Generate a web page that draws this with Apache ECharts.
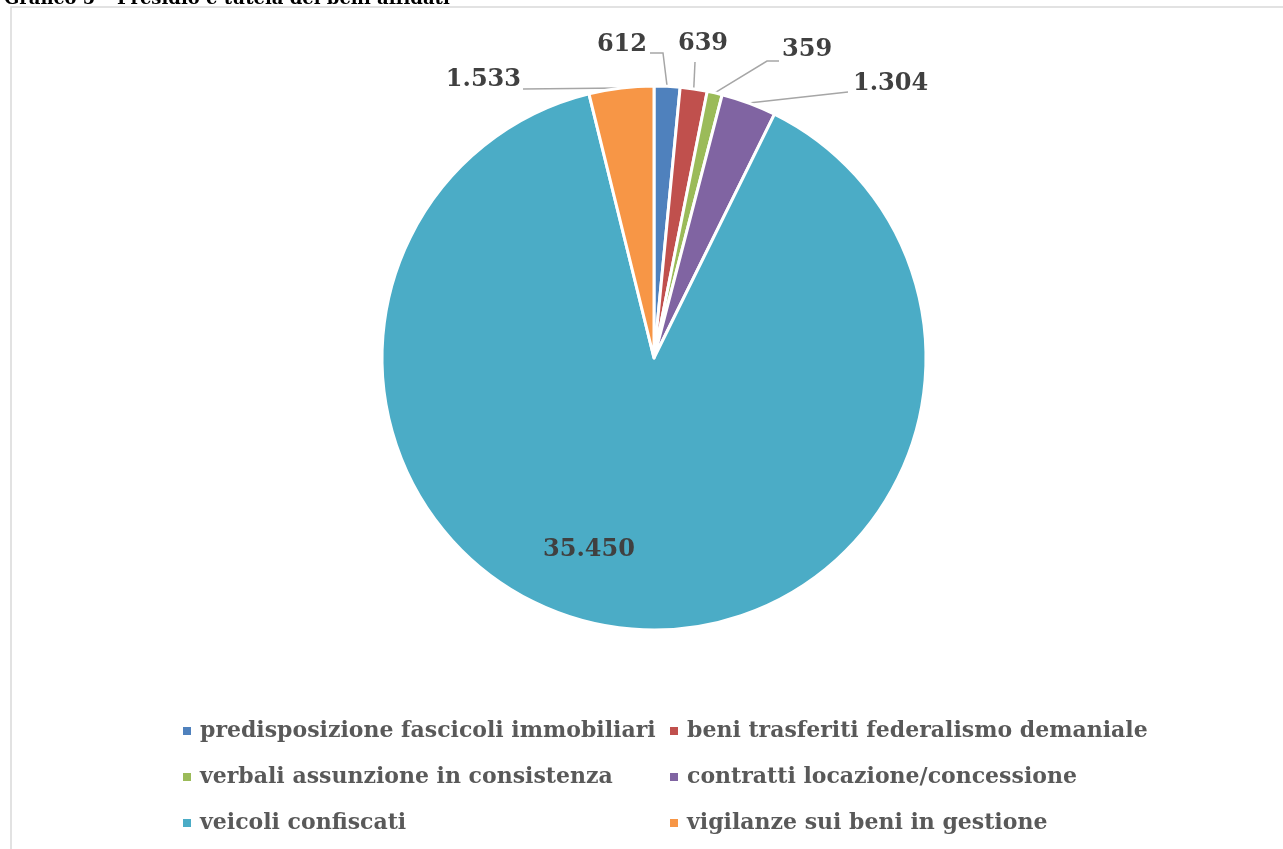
<!DOCTYPE html>
<html>
<head>
<meta charset="utf-8">
<script src="https://cdn.jsdelivr.net/npm/echarts@6/dist/echarts.min.js"></script>
<style>
  html, body { margin: 0; padding: 0; background: #fff; }
  #chart { width: 1283px; height: 849px; }
</style>
</head>
<body>
<div id="chart"></div>
<script>
// Data
const categories = [
  'predisposizione fascicoli immobiliari',
  'beni trasferiti federalismo demaniale',
  'verbali assunzione in consistenza',
  'contratti locazione/concessione',
  'veicoli confiscati',
  'vigilanze sui beni in gestione'
];
const values = [612, 639, 359, 1304, 35450, 1533];
const colors = ['#4F81BD', '#C0504D', '#9BBB59', '#8064A2', '#4BACC6', '#F79646'];
const titleText = 'Grafico 5 – Presidio e tutela dei beni affidati';

const serif = '"DejaVu Serif", "Liberation Serif", serif';
const pieCenter = [654, 358];
const pieRadius = 272;

// Label placement relative to the pie centre (Excel "best fit" look)
const labelPlacement = [
  { x: -7, y: -313, align: 'right', elbow: [9, -305], end: [-4, -305] },
  { x: 49, y: -314, align: 'center', elbow: null, end: [41, -296] },
  { x: 128, y: -308, align: 'left', elbow: [113, -297], end: [125, -297] },
  { x: 199, y: -274, align: 'left', elbow: null, end: [194, -266] },
  null,
  { x: -133, y: -278, align: 'right', elbow: null, end: [-131, -269] }
];

// Italian thousands separator
function fmt(v) {
  return String(v).replace(/\B(?=(\d{3})+(?!\d))/g, '.');
}

// mid angle of each slice (clockwise from 12 o'clock)
const total = values.reduce((a, b) => a + b, 0);
const midAngles = [];
let acc = 0;
values.forEach(v => {
  midAngles.push(((acc + v / 2) / total) * Math.PI * 2);
  acc += v;
});

const chart = echarts.init(document.getElementById('chart'));

const option = {
  backgroundColor: '#fff',
  animation: false,
  color: colors,
  graphic: [
    {
      type: 'rect',
      shape: { x: 11, y: 7, width: 1400, height: 1000 },
      style: { fill: 'none', stroke: '#d9d9d9', lineWidth: 1.5 },
      silent: true
    },
    {
      type: 'text',
      x: 4,
      y: 8,
      style: {
        text: titleText,
        font: 'bold 18px ' + serif,
        fill: '#000',
        verticalAlign: 'bottom'
      }
    }
  ],
  legend: {
    left: 181,
    top: 714,
    padding: 0,
    width: 980,
    itemWidth: 10,
    itemHeight: 10,
    itemGap: 12,
    icon: 'rect',
    textStyle: {
      fontFamily: serif,
      fontWeight: 'bold',
      fontSize: 22,
      color: '#595959',
      width: 456,
      overflow: 'none',
      lineHeight: 34,
      padding: [0, 0, 0, 3]
    },
    data: categories
  },
  series: [
    {
      type: 'pie',
      center: pieCenter,
      radius: pieRadius,
      startAngle: 90,
      clockwise: true,
      itemStyle: { borderColor: '#fff', borderWidth: 3 },
      label: {
        show: true,
        position: 'outside',
        fontFamily: serif,
        fontWeight: 'bold',
        fontSize: 24,
        color: '#404040',
        formatter: p => fmt(p.value)
      },
      labelLine: {
        show: true,
        lineStyle: { color: '#a6a6a6', width: 1.5 }
      },
      labelLayout: params => {
        const pl = labelPlacement[params.dataIndex];
        if (!pl) return {};
        const a = midAngles[params.dataIndex];
        const cx = pieCenter[0], cy = pieCenter[1];
        const pts = [[cx + Math.sin(a) * pieRadius, cy - Math.cos(a) * pieRadius]];
        if (pl.elbow) pts.push([cx + pl.elbow[0], cy + pl.elbow[1]]);
        pts.push([cx + pl.end[0], cy + pl.end[1]]);
        return {
          x: cx + pl.x,
          y: cy + pl.y,
          align: pl.align,
          verticalAlign: 'middle',
          labelLinePoints: pts
        };
      },
      data: categories.map((name, i) => {
        const d = { name, value: values[i] };
        if (i === 4) {
          d.label = { position: 'inside', offset: [-50, 54] };
        }
        return d;
      })
    }
  ]
};

chart.setOption(option);
</script>
</body>
</html>
